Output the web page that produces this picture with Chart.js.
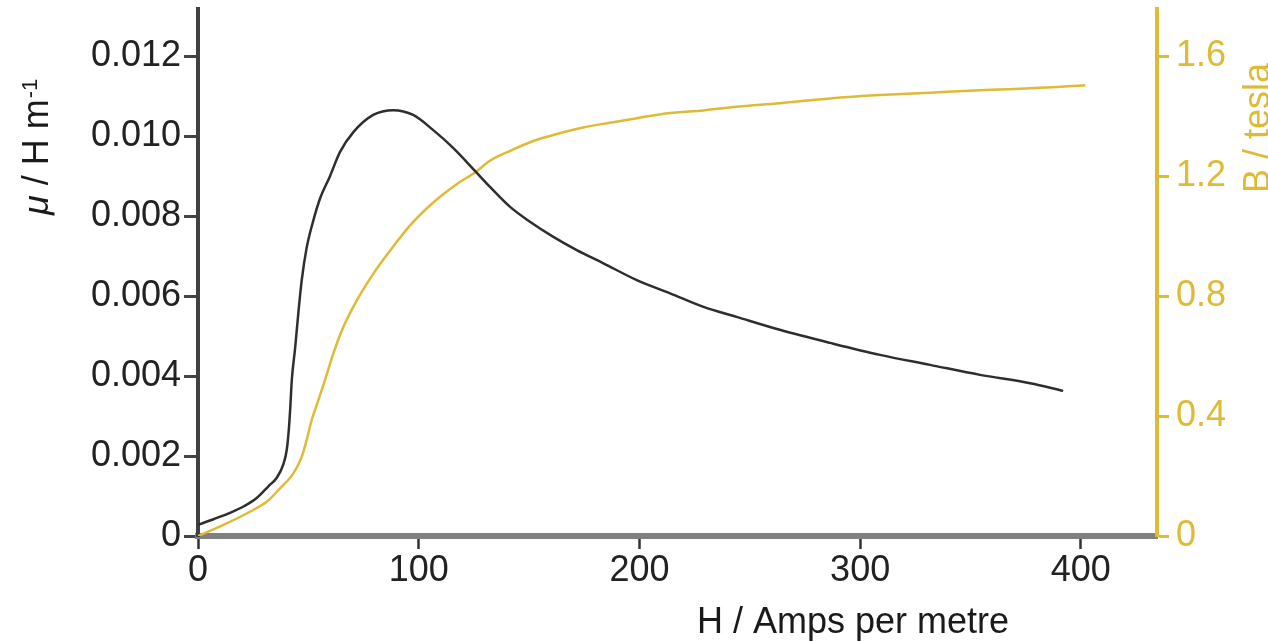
<!DOCTYPE html>
<html>
<head>
<meta charset="utf-8">
<script src="https://cdn.jsdelivr.net/npm/chart.js@4/dist/chart.umd.min.js"></script>
<style>
  html, body { margin: 0; padding: 0; background: #fff; }
  #wrap { position: relative; width: 1268px; height: 642px; }
</style>
</head>
<body>
<div id="wrap"><canvas id="chart"></canvas></div>
<script>
// permeability curve (mu vs H)
const hMu = [0, 7, 14.5, 21, 26.6, 32, 35.6, 38.7, 40.2, 41.2, 41.8, 42.5, 44, 45.5, 47, 49.2,
  52.3, 55.3, 59.8, 64.3, 70.4, 79.4, 88.5, 97.5, 106.6, 115.7, 125.5, 132.3, 141.4, 150.4,
  161, 171.6, 183.7, 198.8, 213.9, 229, 244, 264, 286.4, 309, 331.7, 354.3, 377, 392];
const muValues = [0.00028, 0.00042, 0.00058, 0.00075, 0.00095, 0.00125, 0.00145, 0.0018, 0.00215,
  0.0027, 0.0032, 0.0039, 0.0047, 0.0056, 0.0064, 0.0072, 0.0079, 0.00844, 0.0090, 0.0096,
  0.0101, 0.01053, 0.01065, 0.01053, 0.01015, 0.0097, 0.00913, 0.00873, 0.00823, 0.00786,
  0.00748, 0.00715, 0.00682, 0.0064, 0.00607, 0.00573, 0.00548, 0.00515, 0.00483, 0.00453,
  0.00428, 0.00403, 0.00382, 0.00363];

// magnetisation curve (B vs H)
const hB = [0, 11.5, 22, 31.1, 37.2, 43.2, 47, 49.2, 51.5, 54.5, 57.5, 61.3, 65.8, 71.9, 79.4,
  87, 96, 106.6, 117.2, 125.5, 132.3, 141.4, 151.9, 162.5, 174.6, 186.7, 198.8, 213.9, 229,
  244, 263.7, 286.4, 309, 331.7, 354.3, 384.5, 402];
const bValues = [0, 0.037, 0.075, 0.114, 0.159, 0.209, 0.264, 0.319, 0.386, 0.452, 0.519, 0.608,
  0.696, 0.785, 0.874, 0.951, 1.035, 1.112, 1.173, 1.212, 1.251, 1.284, 1.317, 1.340, 1.362,
  1.378, 1.393, 1.410, 1.419, 1.431, 1.443, 1.459, 1.470, 1.478, 1.486, 1.495, 1.503];

const xTicks = [0, 100, 200, 300, 400];
const xTickLabels = ['0', '100', '200', '300', '400'];
const muTicks = [0, 0.002, 0.004, 0.006, 0.008, 0.010, 0.012];
const muTickLabels = ['0', '0.002', '0.004', '0.006', '0.008', '0.010', '0.012'];
const bTicks = [0, 0.4, 0.8, 1.2, 1.6];
const bTickLabels = ['0', '0.4', '0.8', '1.2', '1.6'];

const FONT = '"Liberation Sans", Arial, sans-serif';
const DARK = '#222222';
const GOLD = '#dfba35';

const toPoints = (xs, ys) => xs.map((x, i) => ({ x, y: ys[i] }));
const setTicks = list => scale => { scale.ticks = list.map(v => ({ value: v })); };

// fixed box sizes so the plot area sits where the original's does
const fitBox = (w, h) => scale => {
  if (w != null) scale.width = w;
  if (h != null) scale.height = h;
  scale.paddingTop = 0;
  scale.paddingBottom = 0;
  scale.paddingLeft = 0;
  scale.paddingRight = 0;
};

const axisTitles = {
  id: 'axisTitles',
  afterDraw(chart) {
    const ctx = chart.ctx;
    ctx.save();
    ctx.textBaseline = 'alphabetic';
    ctx.textAlign = 'left';

    // x title
    ctx.fillStyle = '#1a1a1a';
    ctx.font = '36px ' + FONT;
    ctx.fillText('H / Amps per metre', 697, 633);

    // left title, rotated
    ctx.save();
    ctx.translate(48, 215);
    ctx.rotate(-Math.PI / 2);
    ctx.font = 'italic 36px ' + FONT;
    ctx.fillText('\u03bc', 0, 0);
    let x = ctx.measureText('\u03bc').width;
    ctx.font = '36px ' + FONT;
    ctx.fillText(' / H m', x, 0);
    x += ctx.measureText(' / H m').width;
    ctx.font = '22px ' + FONT;
    ctx.fillText('-1', x + 1, -11);
    ctx.restore();

    // right title, rotated
    ctx.save();
    ctx.translate(1269, 193);
    ctx.rotate(-Math.PI / 2);
    ctx.fillStyle = GOLD;
    ctx.font = '36px ' + FONT;
    ctx.fillText('B / tesla', 0, 0);
    ctx.restore();

    ctx.restore();
  }
};

new Chart(document.getElementById('chart'), {
  type: 'scatter',
  data: {
    datasets: [
      {
        label: 'mu',
        data: toPoints(hMu, muValues),
        yAxisID: 'yMu',
        showLine: true,
        borderColor: '#2e2e2e',
        borderWidth: 2.5,
        pointRadius: 0,
        cubicInterpolationMode: 'monotone'
      },
      {
        label: 'B',
        data: toPoints(hB, bValues),
        yAxisID: 'yB',
        showLine: true,
        borderColor: GOLD,
        borderWidth: 2.5,
        pointRadius: 0,
        cubicInterpolationMode: 'monotone'
      }
    ]
  },
  options: {
    responsive: true,
    maintainAspectRatio: false,
    animation: false,
    layout: { padding: { top: 9, left: 0, right: 0, bottom: 0 } },
    plugins: {
      legend: { display: false },
      tooltip: { enabled: false }
    },
    scales: {
      x: {
        type: 'linear',
        min: 0,
        max: 434.5,
        afterBuildTicks: setTicks(xTicks),
        afterFit: fitBox(null, 106),
        border: { display: true, color: '#808080', width: 6 },
        grid: { drawOnChartArea: false, drawTicks: true, tickLength: 13, tickWidth: 2.5, tickColor: '#333' },
        ticks: {
          padding: 0,
          color: DARK,
          font: { family: FONT, size: 36 },
          maxRotation: 0,
          callback: (v, i) => xTickLabels[i]
        }
      },
      yMu: {
        type: 'linear',
        position: 'left',
        min: 0,
        max: 0.01318,
        afterBuildTicks: setTicks(muTicks),
        afterFit: fitBox(198, null),
        border: { display: true, color: '#404040', width: 4 },
        grid: { drawOnChartArea: false, drawTicks: true, tickLength: 14, tickWidth: 3, tickColor: '#444' },
        ticks: {
          padding: 3,
          color: DARK,
          font: { family: FONT, size: 36 },
          callback: (v, i) => muTickLabels[i]
        }
      },
      yB: {
        type: 'linear',
        position: 'right',
        min: 0,
        max: 1.757,
        afterBuildTicks: setTicks(bTicks),
        afterFit: fitBox(111, null),
        border: { display: true, color: GOLD, width: 4 },
        grid: { drawOnChartArea: false, drawTicks: true, tickLength: 12, tickWidth: 3, tickColor: GOLD },
        ticks: {
          padding: 7,
          color: GOLD,
          font: { family: FONT, size: 36 },
          callback: (v, i) => bTickLabels[i]
        }
      }
    }
  },
  plugins: [axisTitles]
});
</script>
</body>
</html>
